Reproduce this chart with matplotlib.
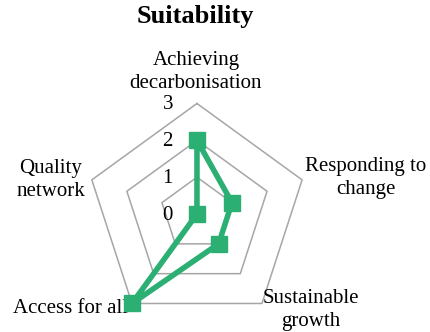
import matplotlib
matplotlib.use('Agg')
import matplotlib.pyplot as plt
import numpy as np

plt.rcParams['font.family'] = ['Liberation Serif', 'DejaVu Serif']

## Data
categories = ["Achieving\ndecarbonisation", "Responding to\nchange", "Sustainable\ngrowth",
              "Access for all", "Quality\nnetwork"]
scores = [2, 1, 1, 3, 0]
ring_levels = [1, 2, 3]
tick_labels = ["0", "1", "2", "3"]

line_color = '#2BAF73'
grid_color = '#A6A6A6'

n = len(categories)
angles = np.linspace(0, 2 * np.pi, n, endpoint=False)

fig = plt.figure(figsize=(4.31, 3.32), dpi=100)
ax = fig.add_axes([0.2005, 0.0223, 0.513, 0.666], projection='polar')
ax.set_theta_offset(np.pi / 2)
ax.set_theta_direction(-1)
ax.set_ylim(0, 3)
ax.grid(False)
ax.spines['polar'].set_visible(False)
ax.set_xticks([])
ax.set_yticks([])
ax.patch.set_alpha(0)

# pentagon rings
closed = np.append(angles, angles[0])
for lvl in ring_levels:
    ax.plot(closed, [lvl] * (n + 1), color=grid_color, lw=1.1, clip_on=False, zorder=1)

# data
vals = scores + scores[:1]
ax.plot(closed, vals, color=line_color, lw=4.0, clip_on=False, zorder=3)
ax.plot(angles, scores, 's', color=line_color, markersize=12, clip_on=False, zorder=4)

# category labels (offsets in points from outer vertex)
label_pos = [
    ((-0.7, 22.5), 'center', 'center'),
    ((2, 1.5), 'left', 'center'),
    ((0.5, -4.5), 'left', 'center'),
    ((-3, -3.5), 'right', 'center'),
    ((-5, 0), 'right', 'center'),
]
for ang, lab, (off, ha, va) in zip(angles, categories, label_pos):
    ax.annotate(lab, xy=(ang, 3), xytext=off, textcoords='offset points',
                ha=ha, va=va, multialignment='center', fontsize=15,
                linespacing=1.3, annotation_clip=False, zorder=2)

# radial value labels
for i, t in enumerate(tick_labels):
    ax.annotate(t, xy=(0, i), xytext=(-21, -0.8), textcoords='offset points',
                ha='center', va='center', fontsize=15, annotation_clip=False)

fig.text(0.453, 1 - 17 / 332, "Suitability", ha='center', va='center',
         fontsize=19, fontweight='bold')

plt.savefig('out.png', dpi=100)
plt.close()
